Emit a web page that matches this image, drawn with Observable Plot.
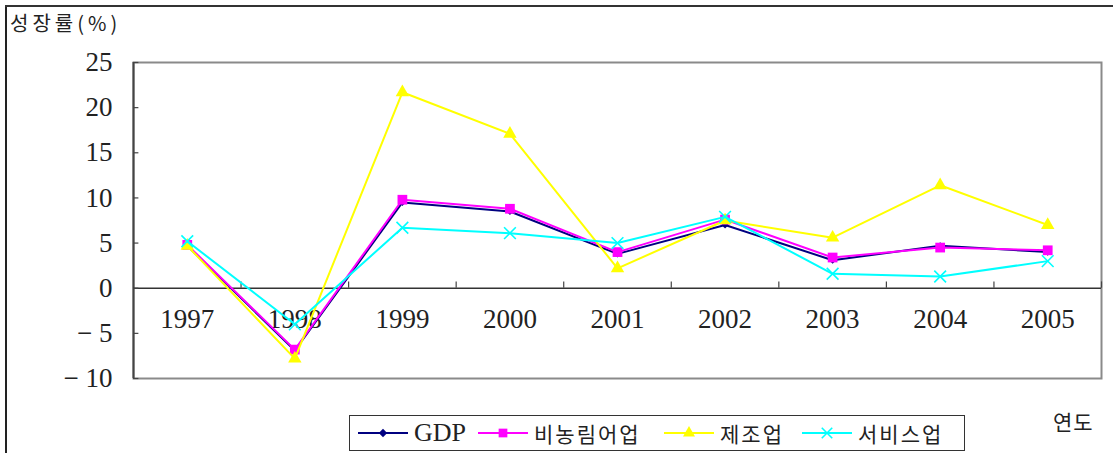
<!DOCTYPE html>
<html><head><meta charset="utf-8">
<script src="https://cdn.jsdelivr.net/npm/d3@7"></script>
<script src="https://cdn.jsdelivr.net/npm/@observablehq/plot@0.6"></script>
<style>
body{margin:0;background:#fff;}
#wrap{position:relative;width:1113px;height:453px;overflow:hidden;background:#fff;}
#chart{position:absolute;left:0;top:0;}
.kr{font-family:"Noto Sans CJK KR",sans-serif;color:#222;position:absolute;white-space:nowrap;}
#bl{position:absolute;left:5px;top:5px;width:2px;height:460px;background:#222;}
#bt{position:absolute;left:5px;top:5px;width:1120px;height:2px;background:#333;}
#legend{position:absolute;left:349px;top:415px;width:614px;height:34px;border:1.5px solid #333;background:#fff;}
.item{position:absolute;top:0;height:34px;display:flex;align-items:center;}
.lab{font-size:21px;letter-spacing:2px;font-family:"Noto Sans CJK KR",sans-serif;color:#222;margin-left:6px;}
.lab.en{font-family:"Liberation Serif",serif;font-size:26px;letter-spacing:0;}
</style></head><body><div id="wrap">
<div id="chart"></div>
<div id="bl"></div><div id="bt"></div>
<div class="kr" id="title" style="left:10px;top:8px;font-size:20px;letter-spacing:4px;">성장률(%)</div>
<div class="kr" id="xlab" style="left:1053px;top:406px;font-size:21px;letter-spacing:1px;">연도</div>
<div id="legend"></div>
</div>
<script>
const years = [1997, 1998, 1999, 2000, 2001, 2002, 2003, 2004, 2005];
const gdp      = [4.7, -6.9, 9.5, 8.5, 3.8, 7.0, 3.1, 4.7, 4.0];
const nonAgri  = [4.8, -6.8, 9.8, 8.8, 4.0, 7.6, 3.4, 4.5, 4.2];
const manuf    = [4.7, -7.8, 21.7, 17.1, 2.2, 7.5, 5.6, 11.4, 7.0];
const services = [5.2, -4.0, 6.7, 6.1, 5.0, 7.9, 1.6, 1.3, 3.0];
const seriesNames = ["GDP", "비농림어업", "제조업", "서비스업"];
const yTicks = [-10, -5, 0, 5, 10, 15, 20, 25];

const seriesValues = [gdp, nonAgri, manuf, services];
const colors = ["#000080", "#ff00ff", "#ffff00", "#00ffff"];
const symbols = ["diamond2", "square2", "triangle2", "times"];
const radii = [3.2, 6.2, 6.4, 5.4];

const xDomain = [years[0] - 0.5, years[years.length - 1] + 0.5];
const boundaries = years.map(y => y + 0.5);

const marks = [
  Plot.frame({stroke: "#8a8a8a", strokeWidth: 2}),
  Plot.ruleX([xDomain[0]], {stroke: "#444", strokeWidth: 2}),
  Plot.ruleY([0], {stroke: "#333", strokeWidth: 1.5}),
  Plot.ruleY(yTicks, {y: d => d, x1: xDomain[0], x2: xDomain[0] + 0.05, stroke: "#444", strokeWidth: 1.2}),
  Plot.ruleX(boundaries, {x: d => d, y1: 0, y2: 0.7, stroke: "#444", strokeWidth: 1.2}),
  Plot.axisY({ticks: yTicks, tickSize: 0, tickPadding: 21, label: null,
    tickFormat: d => d < 0 ? "\u2212 " + Math.abs(d) : String(d),
    fontSize: 27, fontFamily: "Liberation Serif", fill: "#222"}),
  Plot.text(years, {x: d => d, y: 0, dy: 31, text: d => String(d),
    fontSize: 27, fontFamily: "Liberation Serif", fill: "#222"})
];
seriesValues.forEach((vals, k) => {
  marks.push(Plot.line(years, {x: d => d, y: (d, i) => vals[i], stroke: colors[k], strokeWidth: 2}));
  if (symbols[k] === "times") {
    marks.push(Plot.dot(years, {x: d => d, y: (d, i) => vals[i], symbol: "times", stroke: colors[k], strokeWidth: 1.6, r: radii[k]}));
  } else {
    marks.push(Plot.dot(years, {x: d => d, y: (d, i) => vals[i], symbol: symbols[k], fill: colors[k], stroke: "none", r: radii[k]}));
  }
});

const chart = Plot.plot({
  width: 1113, height: 453,
  marginLeft: 133, marginRight: 12, marginTop: 62, marginBottom: 75,
  style: {background: "transparent", fontFamily: "Liberation Serif", fontSize: "27px", color: "#222"},
  x: {type: "linear", domain: xDomain, axis: null},
  y: {domain: [-10, 25], axis: null},
  marks
});
document.getElementById("chart").appendChild(chart);

// legend
const lefts = [8, 128, 314, 452];
const legend = document.getElementById("legend");
const d3sym = {diamond2: d3.symbolDiamond2, square2: d3.symbolSquare2, triangle2: d3.symbolTriangle2, times: d3.symbolTimes};
seriesNames.forEach((name, k) => {
  const item = document.createElement("div");
  item.className = "item";
  item.style.left = lefts[k] + "px";
  const svg = d3.create("svg").attr("width", 50).attr("height", 20);
  svg.append("line").attr("x1", 0).attr("x2", 50).attr("y1", 10).attr("y2", 10).attr("stroke", colors[k]).attr("stroke-width", 2);
  const size = Math.PI * radii[k] * radii[k] * (k === 0 ? 1.4 : 0.8);
  const p = svg.append("path").attr("transform", "translate(25,10)").attr("d", d3.symbol(d3sym[symbols[k]], size)());
  if (symbols[k] === "times") p.attr("fill", "none").attr("stroke", colors[k]).attr("stroke-width", 1.6);
  else p.attr("fill", colors[k]);
  item.appendChild(svg.node());
  const lab = document.createElement("span");
  lab.className = "lab" + (k === 0 ? " en" : "");
  lab.textContent = name;
  item.appendChild(lab);
  legend.appendChild(item);
});
</script>
</body></html>
